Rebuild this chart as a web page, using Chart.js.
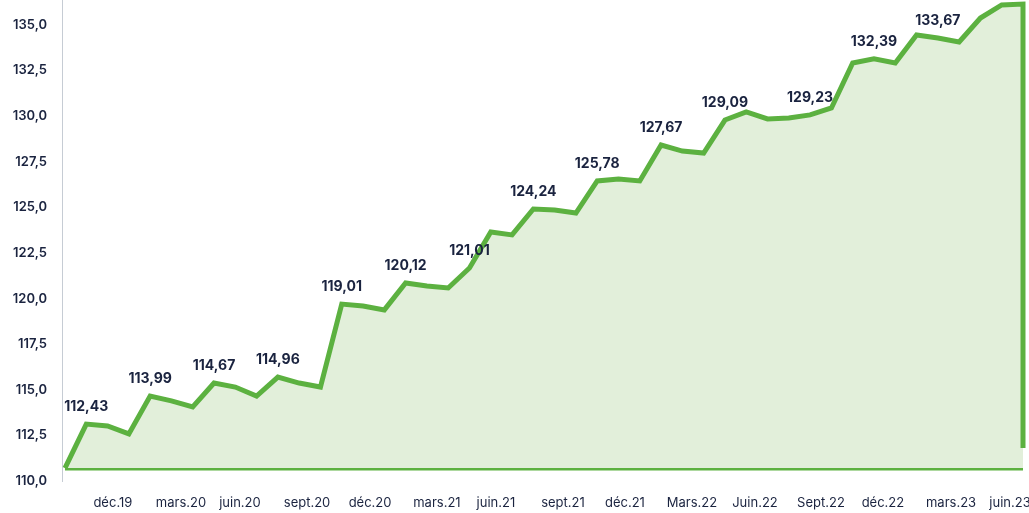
<!DOCTYPE html>
<html>
<head>
<meta charset="utf-8">
<script src="https://cdn.jsdelivr.net/npm/chart.js@4.4.1/dist/chart.umd.min.js"></script>
<style>
  html, body { margin: 0; padding: 0; background: #fff; }
  #wrap { width: 1029px; height: 513px; position: relative; }
</style>
</head>
<body>
<div id="wrap"><canvas id="chart-index"></canvas></div>
<script>
// monthly index values
const values = [
  110.71, 113.12, 113.02, 112.58, 114.66, 114.39, 114.06, 115.37, 115.15, 114.66,
  115.70, 115.37, 115.15, 119.70, 119.59, 119.38, 120.86, 120.69, 120.58, 121.68,
  123.65, 123.49, 124.91, 124.86, 124.69, 126.45, 126.56, 126.45, 128.42, 128.09,
  127.98, 129.79, 130.23, 129.85, 129.90, 130.07, 130.45, 132.92, 133.14, 132.92,
  134.45, 134.29, 134.07, 135.38, 136.10, 136.15
];
const baseValue = 110.71;   // bottom edge of the area
const endDrop = 111.81;     // where the right edge stops

const xLabels = ['déc.19', 'mars.20', 'juin.20', 'sept.20', 'déc.20', 'mars.21', 'juin.21',
  'sept.21', 'déc.21', 'Mars.22', 'Juin.22', 'Sept.22', 'déc.22', 'mars.23', 'juin.23'];
const xTickAt = [2.25, 5.45, 8.22, 11.37, 14.33, 17.47, 20.24, 23.39, 26.30, 29.45,
  32.41, 35.51, 38.42, 41.62, 44.39];

const yTicks = [110, 112.5, 115, 117.5, 120, 122.5, 125, 127.5, 130, 132.5, 135];

const callouts = ['112,43', '113,99', '114,67', '114,96', '119,01', '120,12', '121,01',
  '124,24', '125,78', '127,67', '129,09', '129,23', '132,39', '133,67', '136,17'];
const calloutAt = [1, 4, 7, 10, 13, 16, 19, 22, 25, 28, 31, 35, 38, 41, 44];

const GREEN = '#5cb140';
const FILL = '#e2efda';
const NAVY = '#1a233f';

const calloutPlugin = {
  id: 'callouts',
  afterDatasetsDraw(chart) {
    const meta = chart.getDatasetMeta(0);
    const ctx = chart.ctx;
    ctx.save();
    ctx.font = '700 14px Inter, sans-serif';
    ctx.fillStyle = NAVY;
    ctx.textAlign = 'center';
    ctx.textBaseline = 'middle';
    calloutAt.forEach((idx, i) => {
      const pt = meta.data[idx];
      ctx.fillText(callouts[i], pt.x, pt.y - 17);
    });
    ctx.restore();
  }
};

const linePoints = values.map((v, i) => ({ x: i, y: v }));
linePoints.push({ x: values.length - 1, y: endDrop });

new Chart(document.getElementById('chart-index').getContext('2d'), {
  type: 'line',
  data: {
    datasets: [
      {
        data: linePoints,
        borderColor: GREEN,
        borderWidth: 5,
        borderJoinStyle: 'miter',
        backgroundColor: FILL,
        fill: { value: baseValue },
        pointRadius: 0,
        tension: 0,
        clip: false
      },
      {
        data: [{ x: 0, y: baseValue }, { x: values.length - 1, y: baseValue }],
        borderColor: GREEN,
        borderWidth: 5,
        pointRadius: 0,
        fill: false,
        clip: false
      }
    ]
  },
  options: {
    responsive: true,
    maintainAspectRatio: false,
    animation: false,
    layout: { padding: { left: 12, right: 6, top: 0, bottom: 2 } },
    plugins: {
      legend: { display: false },
      tooltip: { enabled: false }
    },
    scales: {
      x: {
        type: 'linear',
        min: -0.14,
        max: values.length - 1,
        grid: { display: false, drawTicks: false },
        border: { display: false },
        afterBuildTicks: (s) => { s.ticks = xTickAt.map(v => ({ value: v })); },
        afterFit: (s) => { s.paddingLeft = 0; s.paddingRight = 0; s.height = 30; },
        ticks: {
          autoSkip: false,
          maxRotation: 0,
          padding: 14,
          color: NAVY,
          font: { family: 'Inter, sans-serif', size: 13, weight: '400' },
          callback: (v, i) => xLabels[i]
        }
      },
      y: {
        min: 110,
        max: 136.37,
        grid: { display: false, drawTicks: false },
        border: { display: true, color: '#c6ccd4', width: 1 },
        afterBuildTicks: (s) => { s.ticks = yTicks.map(v => ({ value: v })); },
        afterFit: (s) => { s.paddingTop = 0; s.paddingBottom = 0; s.width = 50; },
        ticks: {
          padding: 15,
          color: NAVY,
          font: { family: 'Inter, sans-serif', size: 13, weight: '600' },
          callback: (v) => v.toFixed(1).replace('.', ',')
        }
      }
    }
  },
  plugins: [calloutPlugin]
});
</script>
</body>
</html>
